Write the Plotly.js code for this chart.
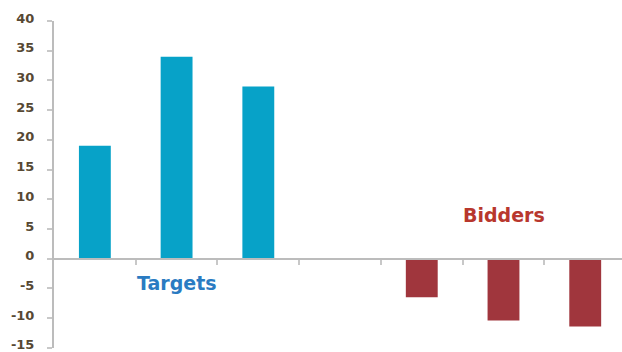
<!DOCTYPE html>
<html>
<head>
<meta charset="utf-8">
<script src="https://cdn.plot.ly/plotly-3.0.1.min.js"></script>
<style>html,body{margin:0;padding:0;background:#fff;}#chart{width:622px;height:352px;}</style>
</head>
<body>
<div id="chart"></div>
<script>
// Categories along the x axis (one blank slot between the two groups)
var categories = ["Target 1", "Target 2", "Target 3", "", "Bidder 1", "Bidder 2", "Bidder 3"];
var targetCats = ["Target 1", "Target 2", "Target 3"];
var targetVals = [19, 34, 29];
var bidderCats = ["Bidder 1", "Bidder 2", "Bidder 3"];
var bidderVals = [-6.5, -10.4, -11.4];
var yTicks = [-15, -10, -5, 0, 5, 10, 15, 20, 25, 30, 35, 40];
var groupLabels = ["Targets", "Bidders"];
var groupLabelAt = [["Target 2", -4.1], ["Bidder 2", 7.4]];

var idx = function (c) { return categories.indexOf(c); };
var yMin = -15, yMax = 40;

var traces = [
  {type: "bar", x: targetCats.map(idx), y: targetVals, marker: {color: "#07a2c8"}, width: 0.39, hoverinfo: "skip"},
  {type: "bar", x: bidderCats.map(idx), y: bidderVals, marker: {color: "#a0363d"}, width: 0.39, hoverinfo: "skip"}
];

var boundaries = [];
for (var i = 0; i < categories.length - 1; i++) boundaries.push(i + 0.5);

var labelColors = ["#2a7bc2", "#b8372d"];
var annotations = groupLabels.map(function (t, k) {
  return {x: idx(groupLabelAt[k][0]), y: groupLabelAt[k][1], xref: "x", yref: "y", text: "<b>" + t + "</b>",
    showarrow: false, font: {family: "DejaVu Sans", size: 19, color: labelColors[k]}};
});

var layout = {
  width: 622, height: 352,
  margin: {l: 54, r: 0, t: 21, b: 4, pad: 0},
  paper_bgcolor: "#ffffff", plot_bgcolor: "#ffffff",
  showlegend: false,
  barmode: "relative",
  xaxis: {
    range: [-0.5, categories.length - 0.55],
    anchor: "free", position: (0 - yMin) / (yMax - yMin),
    showgrid: false, zeroline: false,
    showline: true, linecolor: "#bcbcbc", linewidth: 2,
    tickmode: "array", tickvals: boundaries, ticktext: boundaries.map(function () { return ""; }),
    ticks: "outside", ticklen: 5, tickwidth: 2, tickcolor: "#c8c8c8",
    showticklabels: false, fixedrange: true
  },
  yaxis: {
    range: [yMin - 0.02, yMax],
    showgrid: false, zeroline: false,
    showline: true, linecolor: "#bcbcbc", linewidth: 2,
    tickmode: "array", tickvals: yTicks, ticktext: yTicks.map(String),
    ticks: "outside", ticklen: 5, tickwidth: 2, tickcolor: "#c8c8c8",
    ticklabelstandoff: 10, ticklabelshift: -3, ticklabeloverflow: "allow",
    tickfont: {family: "DejaVu Sans", size: 13, color: "#574833", weight: "bold"},
    fixedrange: true
  },
  annotations: annotations
};

Plotly.newPlot("chart", traces, layout, {displayModeBar: false, staticPlot: true});
</script>
</body>
</html>
